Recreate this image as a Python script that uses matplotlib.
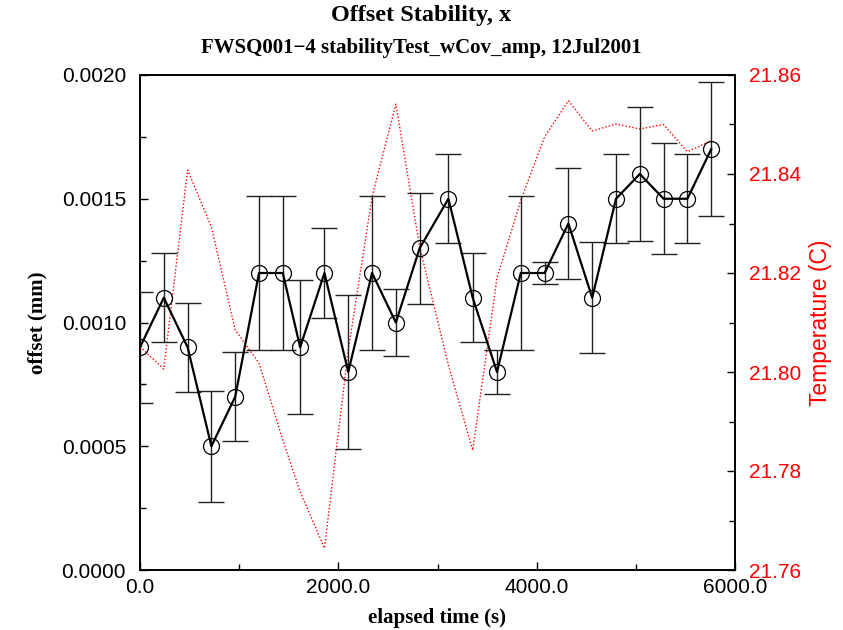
import matplotlib
matplotlib.use("Agg")
import matplotlib.pyplot as plt
from matplotlib.ticker import MultipleLocator, FormatStrFormatter

# Data
time_s = [0, 240, 480, 720, 960, 1200, 1440, 1615, 1860, 2100, 2340, 2580, 2820,
          3110, 3355, 3600, 3840, 4080, 4320, 4560, 4800, 5040, 5280, 5520, 5760]
offset_mm = [0.0009, 0.0011, 0.0009, 0.0005, 0.0007, 0.0012, 0.0012, 0.0009, 0.0012,
             0.0008, 0.0012, 0.0010, 0.0013, 0.0015, 0.0011, 0.0008, 0.0012, 0.0012,
             0.0014, 0.0011, 0.0015, 0.0016, 0.0015, 0.0015, 0.0017]
offset_err = [0.000225, 0.00018, 0.00018, 0.000225, 0.00018, 0.00031, 0.00031, 0.00027,
              0.00018, 0.00031, 0.00031, 0.000135, 0.000225, 0.00018, 0.00018, 0.00009,
              0.00031, 0.000045, 0.000225, 0.000225, 0.00018, 0.00027, 0.000225, 0.00018,
              0.00027]
temperature_C = [21.8051, 21.8006, 21.8408, 21.8293, 21.8085, 21.8018, 21.7863, 21.7758,
                 21.7644, 21.8044, 21.8354, 21.8541, 21.8253, 21.8014, 21.7842, 21.8190,
                 21.8347, 21.8475, 21.8548, 21.8487, 21.8501, 21.8491, 21.8500, 21.8445,
                 21.8467]

serif_bold = dict(family="Liberation Serif", weight="bold")
sans = "Liberation Sans"

fig = plt.figure(figsize=(8.43, 6.3), dpi=100)
ax = fig.add_axes([140/843, 1-570/630, (735-140)/843, (570-75)/630])
ax2 = ax.twinx()

# temperature (behind)
ax2.plot(time_s, temperature_C, color="red", linestyle=(0, (1, 1.5)), linewidth=1.0)
ax2.set_ylim(21.76, 21.86)
ax2.yaxis.set_major_locator(MultipleLocator(0.02))
ax2.yaxis.set_minor_locator(MultipleLocator(0.01))
ax2.yaxis.set_major_formatter(FormatStrFormatter("%.2f"))
ax2.tick_params(axis="y", which="major", direction="in", length=6, width=1,
                labelsize=15, labelcolor="red", pad=10)
ax2.tick_params(axis="y", which="minor", direction="in", length=4, width=1)
for lab in ax2.get_yticklabels():
    lab.set_family(sans)
ax2.set_ylabel("Temperature (C)", color="red", fontsize=16.5, family=sans, labelpad=6)

# offset
ax.set_zorder(ax2.get_zorder() + 1)
ax.patch.set_visible(False)
ax.errorbar(time_s, offset_mm, yerr=offset_err, fmt="none", ecolor="#222222",
            elinewidth=1.0, capsize=9.7, capthick=1.0)
ax.plot(time_s, offset_mm, color="black", linewidth=1.6)
ax.plot(time_s, offset_mm, linestyle="none", marker="o", markersize=11.5,
        markerfacecolor="none", markeredgecolor="black", markeredgewidth=0.9)

ax.set_xlim(0, 6000)
ax.set_ylim(0, 0.002)
ax.xaxis.set_major_locator(MultipleLocator(2000))
ax.xaxis.set_minor_locator(MultipleLocator(1000))
ax.yaxis.set_major_locator(MultipleLocator(0.0005))
ax.yaxis.set_minor_locator(MultipleLocator(0.00025))
ax.xaxis.set_major_formatter(FormatStrFormatter("%.1f"))
ax.yaxis.set_major_formatter(FormatStrFormatter("%.4f"))
ax.tick_params(which="major", direction="in", length=6, width=1, labelsize=15, pad=6)
ax.tick_params(which="minor", direction="in", length=4, width=1)
ax.tick_params(axis="y", pad=10)
for lab in ax.get_xticklabels() + ax.get_yticklabels():
    lab.set_family(sans)
for a in (ax, ax2):
    for s in a.spines.values():
        s.set_linewidth(1.2)

ax.set_xlabel("elapsed time (s)", fontsize=15, labelpad=8, **serif_bold)
ax.set_ylabel("offset (mm)", fontsize=15, labelpad=10, **serif_bold)

fig.text(0.5, 1-16/630, "Offset Stability, x", ha="center", va="center",
         fontsize=17.5, **serif_bold)
fig.text(0.5, 1-48/630, "FWSQ001\u22124 stabilityTest_wCov_amp, 12Jul2001",
         ha="center", va="center", fontsize=15, **serif_bold)

fig.savefig("out.png", dpi=100)
